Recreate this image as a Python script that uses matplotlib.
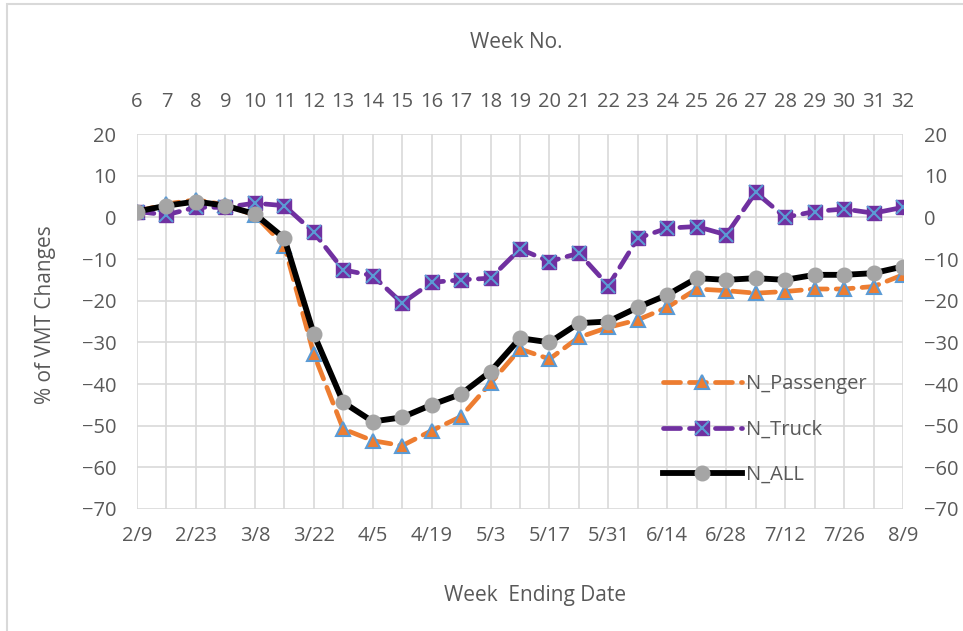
import matplotlib
matplotlib.use("Agg")
import matplotlib.pyplot as plt
from matplotlib.patches import Rectangle
from matplotlib.legend_handler import HandlerTuple

plt.rcParams['font.family'] = ['Open Sans', 'DejaVu Sans']

weeks = list(range(6, 33))
date_labels = ['2/9', '2/23', '3/8', '3/22', '4/5', '4/19', '5/3', '5/17',
               '5/31', '6/14', '6/28', '7/12', '7/26', '8/9']

n_passenger = [1.4, 3.2, 4.2, 3.0, 0.5, -6.8, -32.8, -50.8, -53.6, -54.8,
               -51.2, -47.8, -39.8, -31.6, -34.0, -28.8, -26.4, -24.6, -21.6,
               -17.2, -17.6, -18.2, -17.8, -17.2, -17.2, -16.6, -13.8]
n_truck = [1.4, 0.6, 2.4, 2.4, 3.4, 2.8, -3.6, -12.6, -14.0, -20.6,
           -15.6, -15.0, -14.6, -7.6, -10.6, -8.6, -16.4, -5.0, -2.6,
           -2.2, -4.2, 6.0, 0.0, 1.4, 2.0, 1.0, 2.4]
n_all = [1.4, 2.8, 3.8, 2.8, 0.8, -5.0, -28.0, -44.4, -49.0, -48.0,
         -45.0, -42.4, -37.0, -29.0, -30.0, -25.4, -25.0, -21.6, -18.6,
         -14.6, -15.0, -14.6, -15.0, -13.8, -13.8, -13.4, -11.8]

txt = '#595959'
grid = '#d9d9d9'
orange = '#ED7D31'
purple = '#7030A0'
blue = '#5B9BD5'
gray = '#A5A5A5'

fig = plt.figure(figsize=(9.63, 6.31), dpi=100)
ax = fig.add_axes([137 / 963, 1 - 509 / 631, 766 / 963, 375 / 631])

dash = (3.6, 1.9)
l_pass, = ax.plot(weeks, n_passenger, color=orange, lw=3.4, dashes=dash,
                  dash_capstyle='round', marker='^', ms=10, mfc=orange,
                  mec=blue, mew=1.5, zorder=3)
l_truck, = ax.plot(weeks, n_truck, color=purple, lw=3.4, dashes=dash,
                   dash_capstyle='round', marker='s', ms=10, mfc=purple,
                   mec=purple, zorder=4)
l_truck_x, = ax.plot(weeks, n_truck, ls='none', marker='x', ms=10,
                     mec=blue, mew=1.5, zorder=4.5)
l_all, = ax.plot(weeks, n_all, color='black', lw=4.2, marker='o', ms=10.5,
                 mfc=gray, mec=gray, zorder=5)

ax.set_xlim(6, 32)
ax.set_ylim(-70, 20)
ax.set_yticks(range(-70, 21, 10))
ax.set_xticks(weeks, minor=True)
ax.set_xticks(weeks[::2])
ax.set_xticklabels(date_labels)
ax.grid(True, which='both', axis='x', color=grid, lw=1.2)
ax.grid(True, which='major', axis='y', color=grid, lw=1.2)
ax.set_axisbelow(True)
for s in ax.spines.values():
    s.set_visible(False)
ax.tick_params(which='both', length=0, colors=txt, labelsize=14.5)
ax.tick_params(axis='y', pad=15, labelright=True, right=False)
ax.tick_params(axis='x', pad=12)

top = ax.secondary_xaxis('top')
top.set_xticks(weeks)
top.set_xticklabels([str(w) for w in weeks])
top.tick_params(length=0, colors=txt, labelsize=14.5, pad=16)
for s in top.spines.values():
    s.set_visible(False)

fig.text(516 / 963, 1 - 43 / 631, 'Week No.', ha='center', va='center',
         color=txt, fontsize=15)
fig.text(535 / 963, 1 - 596 / 631, 'Week  Ending Date', ha='center',
         va='center', color=txt, fontsize=15)
fig.text(45 / 963, 1 - 315 / 631, '% of VMT Changes', ha='center',
         va='center', rotation=90, color=txt, fontsize=15)

leg = ax.legend([l_pass, (l_truck, l_truck_x), l_all],
                ['N_Passenger', 'N_Truck', 'N_ALL'],
                handler_map={tuple: HandlerTuple(ndivide=1)},
                loc='upper left', bbox_to_anchor=(663 / 963, 1 - 374 / 631),
                bbox_transform=fig.transFigure, frameon=False, fontsize=14.5,
                handlelength=3.9, handletextpad=0.2, labelspacing=1.27,
                borderpad=0, borderaxespad=0, numpoints=1)
for t in leg.get_texts():
    t.set_color(txt)

fig.patches.append(Rectangle((7 / 963, -0.1), 1.2, 1.1 - 4 / 631,
                             transform=fig.transFigure, fill=False,
                             ec=grid, lw=1.5))

fig.savefig('out.png', dpi=100)
